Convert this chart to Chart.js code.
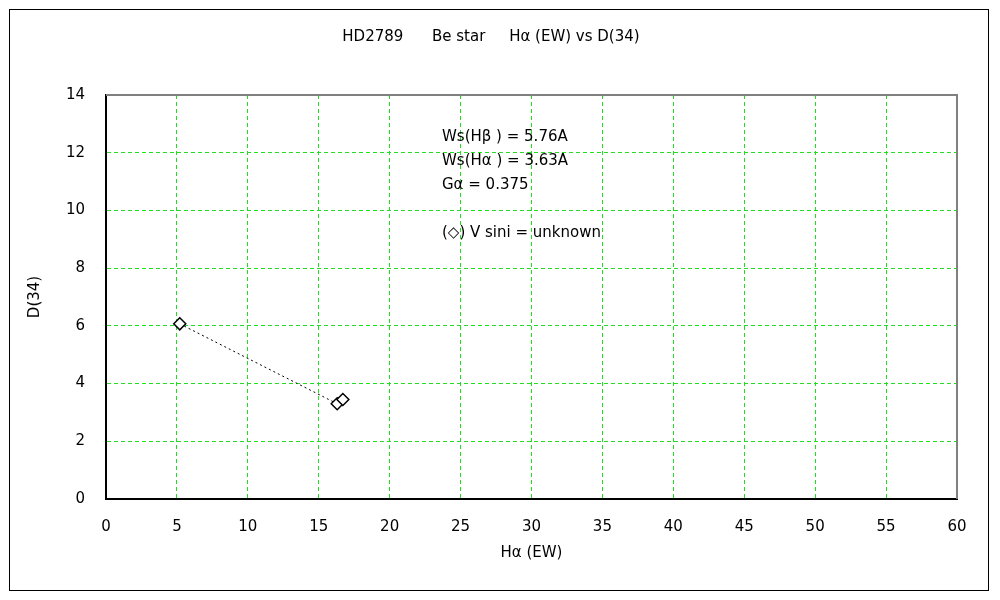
<!DOCTYPE html>
<html>
<head>
<meta charset="utf-8">
<script src="https://cdn.jsdelivr.net/npm/chart.js@4/dist/chart.umd.min.js"></script>
<style>
  html, body { margin: 0; padding: 0; background: #fff; }
  #wrap { width: 1000px; height: 600px; }
</style>
</head>
<body>
<div id="wrap"><canvas id="chart"></canvas></div>
<script>
// data
const haEW = [5.2, 16.3, 16.7];
const d34 = [6.07, 3.3, 3.45];
const xTicks = [0, 5, 10, 15, 20, 25, 30, 35, 40, 45, 50, 55, 60];
const yTicks = [0, 2, 4, 6, 8, 10, 12, 14];
const noteLines = ["Ws(H\u03B2 ) = 5.76A", "Ws(H\u03B1 ) = 3.63A", "G\u03B1 = 0.375", "", "(\u25C7) V sini = unknown"];

const FONT = "'DejaVu Sans', sans-serif";
const gridGreen = "#22dd22";

// outer frame, plot border and the notes
const decor = {
  id: "decor",
  beforeDraw(chart) {
    const ctx = chart.ctx;
    ctx.save();
    ctx.fillStyle = "#fff";
    ctx.fillRect(0, 0, chart.width, chart.height);
    ctx.strokeStyle = "#000";
    ctx.lineWidth = 1;
    ctx.strokeRect(9.5, 9.5, 979, 581);
    ctx.restore();
  },
  afterDatasetsDraw(chart) {
    const ctx = chart.ctx;
    const a = chart.chartArea;
    ctx.save();
    ctx.strokeStyle = "#808080";
    ctx.lineWidth = 2;
    ctx.beginPath();
    ctx.moveTo(a.left, a.top);
    ctx.lineTo(a.right, a.top);
    ctx.lineTo(a.right, a.bottom);
    ctx.stroke();
    ctx.fillStyle = "#000";
    ctx.font = "15px " + FONT;
    ctx.textBaseline = "middle";
    noteLines.forEach((t, i) => {
      if (t) ctx.fillText(t, a.left + 336, a.top + 42 + i * 24);
    });
    ctx.restore();
  }
};

const config = {
  type: "scatter",
  data: {
    datasets: [{
      label: "D(34)",
      data: haEW.map((x, i) => ({ x: x, y: d34[i] })),
      showLine: true,
      borderColor: "#000",
      borderWidth: 1,
      borderDash: [2, 3],
      pointStyle: "rectRot",
      pointRadius: 6,
      pointBorderWidth: 1.5,
      pointBackgroundColor: "#fff",
      pointBorderColor: "#000"
    }]
  },
  options: {
    responsive: false,
    animation: false,
    layout: { padding: { left: 25, right: 43, top: 0, bottom: 10 } },
    plugins: {
      legend: { display: false },
      tooltip: { enabled: false },
      title: {
        display: true,
        text: "HD2789      Be star     H\u03B1 (EW) vs D(34)",
        color: "#000",
        font: { family: FONT, size: 15, weight: "normal" },
        padding: { top: 28, bottom: 49 }
      }
    },
    scales: {
      x: {
        type: "linear",
        min: 0,
        max: 60,
        afterBuildTicks: (s) => { s.ticks = xTicks.map(v => ({ value: v })); },
        afterFit: (s) => { s.height = 91; },
        grid: { color: gridGreen, drawTicks: false },
        border: { color: "#000", width: 2, dash: [4, 3] },
        ticks: { color: "#000", padding: 19, font: { family: FONT, size: 15 } },
        title: {
          display: true,
          text: "H\u03B1 (EW)",
          color: "#000",
          font: { family: FONT, size: 15 },
          padding: { top: 0, bottom: 28 }
        }
      },
      y: {
        type: "linear",
        min: 0,
        max: 14,
        afterBuildTicks: (s) => { s.ticks = yTicks.map(v => ({ value: v })); },
        afterFit: (s) => { s.width = 81; },
        grid: { color: gridGreen, drawTicks: false },
        border: { color: "#000", width: 2, dash: [4, 3] },
        ticks: { color: "#000", padding: 21, font: { family: FONT, size: 15 } },
        title: {
          display: true,
          text: "D(34)",
          color: "#000",
          font: { family: FONT, size: 15 },
          padding: { top: 1, bottom: 0 }
        }
      }
    }
  },
  plugins: [decor]
};

const cv = document.getElementById("chart");
cv.width = 1000;
cv.height = 600;
new Chart(cv.getContext("2d"), config);
</script>
</body>
</html>
